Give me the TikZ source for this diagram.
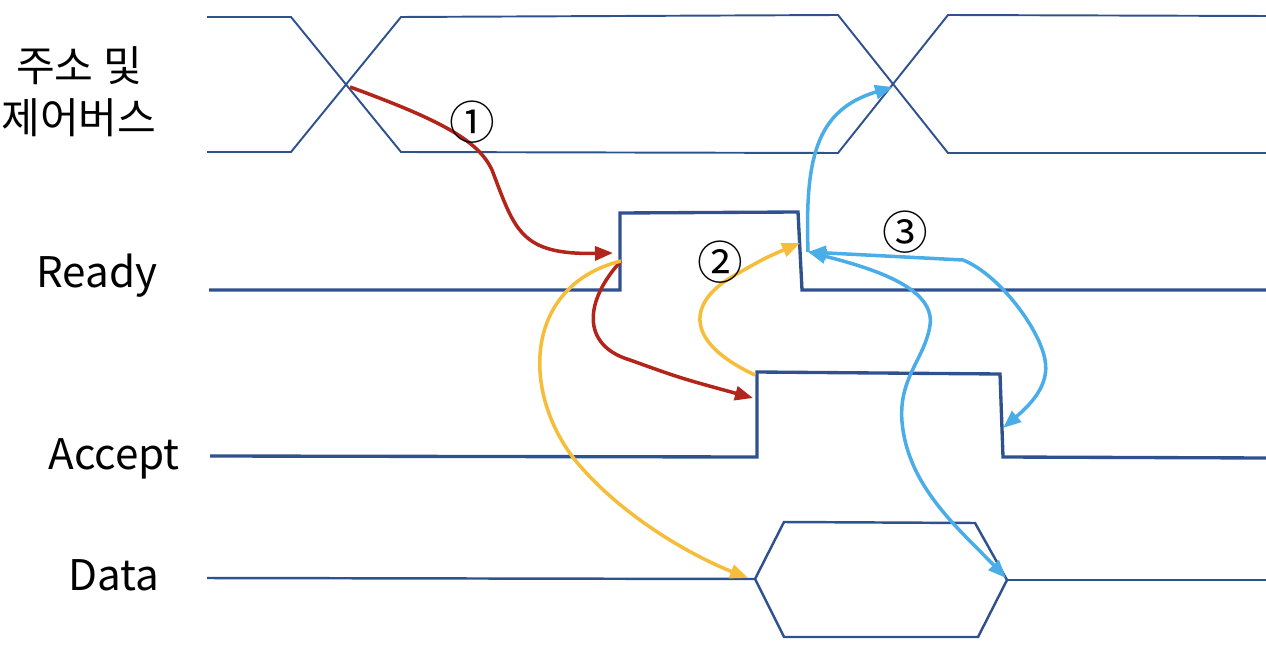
\documentclass[tikz,border=0pt]{standalone}
\usepackage{fontspec}
\setmainfont{Noto Sans CJK KR}
\usepackage{tikz}
\usetikzlibrary{arrows.meta}
\definecolor{SigBlue}{HTML}{2F528F}
\definecolor{StepRed}{HTML}{B3241B}
\definecolor{StepYellow}{HTML}{F5BD3A}
\definecolor{StepCyan}{HTML}{4AADE8}

\begin{document}
\begin{tikzpicture}[x=0.02cm,y=-0.02cm,>={Triangle[length=3.6mm,width=2.8mm]}]
  \tikzstyle{busline}=[draw=SigBlue,line width=1.1pt,line join=miter]
  \tikzstyle{sigline}=[draw=SigBlue,line width=1.9pt,line join=miter]
  \tikzstyle{dataline}=[draw=SigBlue,line width=1.4pt,line join=miter]
  \tikzstyle{siglabel}=[inner sep=0pt,font=\fontsize{24}{30}\selectfont]
  \tikzstyle{steplabel}=[inner sep=0pt,font=\fontsize{26}{30}\selectfont]
  \tikzstyle{steparrow}=[line width=2pt,->]
  \useasboundingbox (0,0) rectangle (1266,648);

  % labels
  \node[siglabel,align=center,font=\fontsize{24}{29.5}\selectfont] (bus) at (79,92) {주소 및\\제어버스};
  \node[siglabel] (ready) at (97,276) {Ready};
  \node[siglabel] (accept) at (114,459) {Accept};
  \node[siglabel] (data) at (114,575) {Data};

  % address / control bus
  \draw[busline] (207,17) -- (291,17) -- (401,152) -- (838,153) -- (948,15) -- (1266,16);
  \draw[busline] (207,152) -- (291,152) -- (401,17) -- (838,15) -- (948,153) -- (1266,153);
  % ready, accept
  \draw[sigline] (209,290) -- (620,290) -- (620,213) -- (798,212) -- (802,290) -- (1266,290);
  \draw[sigline] (210,456) -- (757,457) -- (757,372) -- (1000,374) -- (1003,457) -- (1266,458);
  % data
  \draw[dataline] (207,578) -- (755,579) -- (784,522) -- (975,523) -- (1007,580) -- (978,637)
    -- (784,637) -- (755,579);
  \draw[dataline] (1007,580) -- (1266,580);

  % handshake points
  \coordinate (busx1) at (350,87);
  \coordinate (busx2) at (893,87);
  \coordinate (readyup) at (613,253);
  \coordinate (readyupout) at (621,261);
  \coordinate (readydn) at (800,243);
  \coordinate (readydnin) at (808,252);
  \coordinate (acceptup) at (753,398);
  \coordinate (acceptupout) at (755,375);
  \coordinate (acceptdn) at (1003,428);
  \coordinate (datain) at (748,578);
  \coordinate (dataout) at (1006,578);
  \coordinate (turn) at (963,260);

  % step 1
  \draw[steparrow,StepRed] (busx1) .. controls (440,120) and (478,140) .. (492,170)
    .. controls (515,230) and (520,255) .. (readyup);
  \draw[steparrow,StepRed] (readyupout) .. controls (585,300) and (580,345) .. (630,360)
    .. controls (680,378) .. (acceptup);
  \node[steplabel] (one) at (472,122) {①};
  % step 2
  \draw[steparrow,StepYellow] (readyupout) .. controls (525,285) and (520,390) .. (575,460)
    .. controls (620,515) and (690,555) .. (datain);
  \draw[steparrow,StepYellow] (acceptupout) .. controls (680,340) and (690,300) .. (735,275)
    .. controls (765,258) .. (readydn);
  \node[steplabel] (two) at (720,262) {②};
  % step 3
  \draw[steparrow,StepCyan] (readydnin) .. controls (805,160) and (815,110) .. (busx2);
  \draw[steparrow,StepCyan,<->] (readydnin) -- (turn) .. controls (1000,275) and (1040,330) .. (1045,360)
    .. controls (1050,385) and (1030,405) .. (acceptdn);
  \draw[steparrow,StepCyan,<->] (readydnin) .. controls (880,270) and (935,290) .. (930,325)
    .. controls (925,360) and (895,380) .. (903,430) .. controls (912,490) and (960,530) .. (dataout);
  \node[steplabel] (three) at (905,232) {③};
\end{tikzpicture}
\end{document}
